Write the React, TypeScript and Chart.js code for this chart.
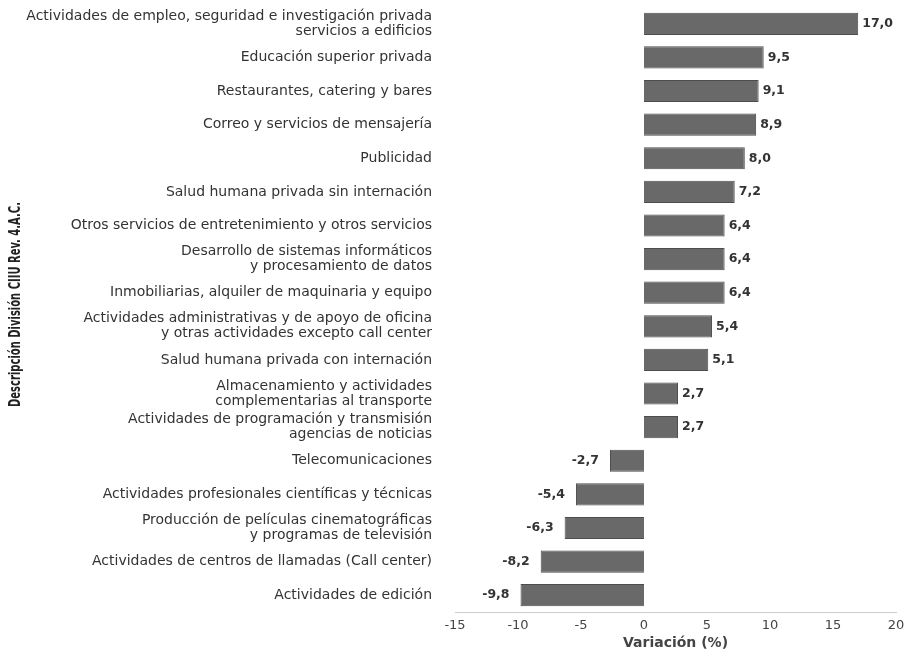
import React, { useEffect, useRef } from "react";
import { Chart, registerables } from "chart.js";

Chart.register(...registerables);

const categories: (string | string[])[] = [
  ["Actividades de empleo, seguridad e investigación privada", "servicios a edificios"],
  "Educación superior privada",
  "Restaurantes, catering y bares",
  "Correo y servicios de mensajería",
  "Publicidad",
  "Salud humana privada sin internación",
  "Otros servicios de entretenimiento y otros servicios",
  ["Desarrollo de sistemas informáticos", "y procesamiento de datos"],
  "Inmobiliarias, alquiler de maquinaria y equipo",
  ["Actividades administrativas y de apoyo de oficina", "y otras actividades excepto call center"],
  "Salud humana privada con internación",
  ["Almacenamiento y actividades", "complementarias al transporte"],
  ["Actividades de programación y transmisión", "agencias de noticias"],
  "Telecomunicaciones",
  "Actividades profesionales científicas y técnicas",
  ["Producción de películas cinematográficas", "y programas de televisión"],
  "Actividades de centros de llamadas (Call center)",
  "Actividades de edición",
];

const variation: number[] = [
  17.0, 9.5, 9.1, 8.9, 8.0, 7.2, 6.4, 6.4, 6.4, 5.4, 5.1, 2.7, 2.7, -2.7, -5.4, -6.3, -8.2, -9.8,
];

const xTicks: number[] = [-15, -10, -5, 0, 5, 10, 15, 20];

const yTitle = "Descripción División CIIU Rev. 4.A.C.";
const xTitle = "Variación (%)";

const FONT = '"DejaVu Sans", "Liberation Sans", sans-serif';

const valueLabels = {
  id: "valueLabels",
  afterDatasetsDraw(chart: any) {
    const { ctx } = chart;
    const meta = chart.getDatasetMeta(0);
    ctx.save();
    ctx.font = `bold 12.5px ${FONT}`;
    ctx.fillStyle = "#333";
    ctx.textBaseline = "middle";
    meta.data.forEach((bar: any, i: number) => {
      const v = variation[i];
      const txt = v.toFixed(1).replace(".", ",");
      if (v >= 0) {
        ctx.textAlign = "left";
        ctx.fillText(txt, bar.x + 4, bar.y);
      } else {
        ctx.textAlign = "right";
        ctx.fillText(txt, bar.x - 11, bar.y);
      }
    });
    ctx.restore();
  },
};

const narrowYTitle = {
  id: "narrowYTitle",
  afterDraw(chart: any) {
    const { ctx, chartArea } = chart;
    ctx.save();
    ctx.translate(16, (chartArea.top + chartArea.bottom) / 2 - 5);
    ctx.rotate(-Math.PI / 2);
    ctx.scale(0.74, 1);
    ctx.font = `bold 15px "DejaVu Sans Condensed", "DejaVu Sans", sans-serif`;
    ctx.fillStyle = "#222";
    ctx.textAlign = "center";
    ctx.textBaseline = "middle";
    ctx.fillText(yTitle, 0, 0);
    ctx.restore();
  },
};

export default function App() {
  const canvasRef = useRef<HTMLCanvasElement | null>(null);

  useEffect(() => {
    if (!canvasRef.current) return;
    const chart = new Chart(canvasRef.current, {
      type: "bar",
      data: {
        labels: categories,
        datasets: [
          {
            data: variation,
            backgroundColor: "#696969",
            borderColor: "#4d4d4d",
            borderWidth: 1,
            barPercentage: 0.66,
            categoryPercentage: 1,
          },
        ],
      },
      options: {
        indexAxis: "y",
        animation: false,
        responsive: true,
        maintainAspectRatio: false,
        layout: { padding: { top: 7, right: 11, bottom: 0, left: 0 } },
        plugins: {
          legend: { display: false },
          tooltip: { enabled: false },
        },
        scales: {
          x: {
            type: "linear",
            min: -15,
            max: 20,
            afterBuildTicks: (scale: any) => {
              scale.ticks = xTicks.map((v) => ({ value: v }));
            },
            afterFit: (scale: any) => {
              scale.height = 43;
              scale.paddingLeft = 0;
              scale.paddingRight = 0;
            },
            grid: { display: false, drawTicks: false },
            border: { display: true, color: "#cccccc", width: 1 },
            ticks: {
              padding: 6,
              color: "#444",
              font: { family: FONT, size: 13 },
            },
            title: {
              display: true,
              text: xTitle,
              color: "#444",
              font: { family: FONT, size: 14, weight: "bold" },
              padding: { top: 2, bottom: 3 },
            },
          },
          y: {
            grid: { display: false, drawTicks: false },
            border: { display: false },
            afterFit: (scale: any) => {
              scale.width = 455;
              scale.paddingTop = 0;
              scale.paddingBottom = 0;
            },
            ticks: {
              padding: 23,
              color: "#333",
              font: { family: FONT, size: 14, lineHeight: 1.07 },
              autoSkip: false,
            },
          },
        },
      },
      plugins: [valueLabels, narrowYTitle],
    });
    return () => chart.destroy();
  }, []);

  return (
    <div style={{ position: "fixed", left: 0, top: 0, width: 907, height: 655, background: "#fff" }}>
      <canvas ref={canvasRef} />
    </div>
  );
}
